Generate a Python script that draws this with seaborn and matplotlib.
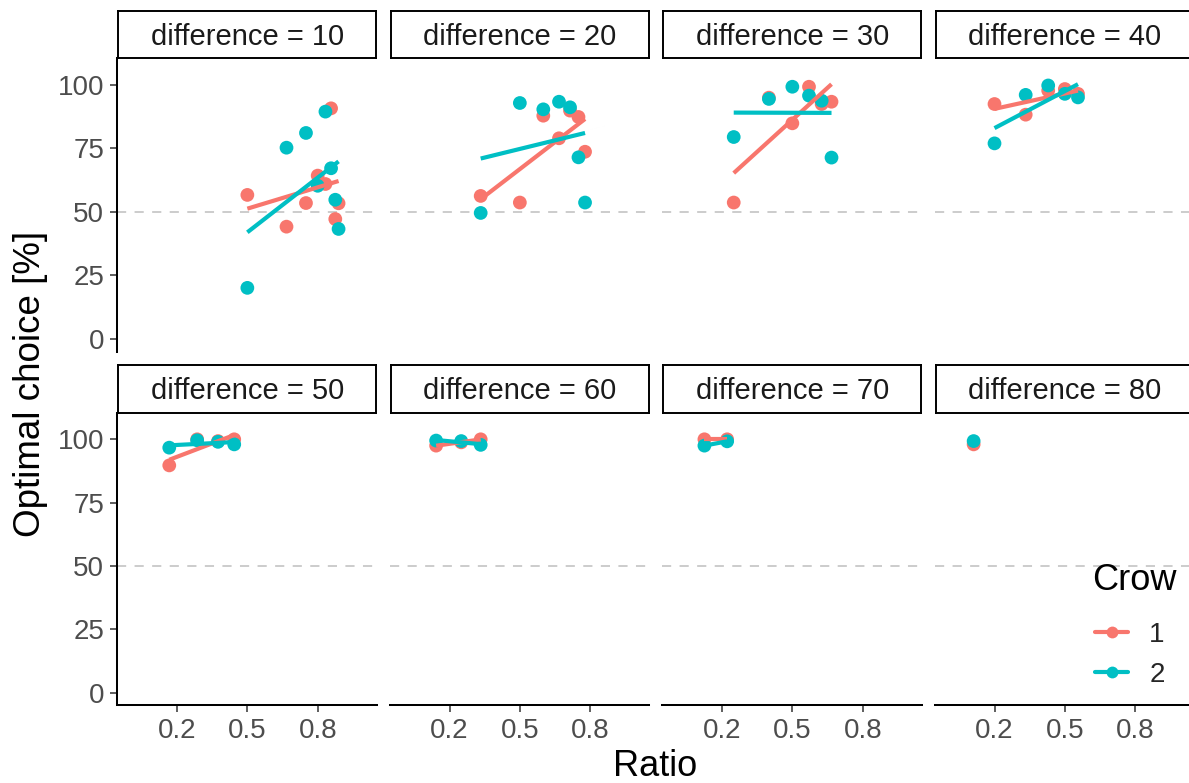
import numpy as np
import pandas as pd
import matplotlib
matplotlib.use("Agg")
import matplotlib.pyplot as plt
import seaborn as sns
from matplotlib.lines import Line2D

# ---------------- data ----------------
differences = [10, 20, 30, 40, 50, 60, 70, 80]

ratio_10 = [0.500, 0.667, 0.750, 0.800, 0.833, 0.857, 0.875, 0.889]
crow1_10 = [56.7, 44.2, 53.5, 64.3, 61.0, 90.8, 47.2, 53.4]
crow2_10 = [20.1, 75.3, 81.1, 60.3, 89.5, 67.2, 54.8, 43.3]

ratio_20 = [0.333, 0.500, 0.600, 0.667, 0.714, 0.750, 0.778]
crow1_20 = [56.3, 53.7, 87.9, 79.0, 89.9, 87.4, 73.7]
crow2_20 = [49.6, 92.9, 90.4, 93.4, 91.2, 71.5, 53.7]

ratio_30 = [0.250, 0.400, 0.500, 0.571, 0.625, 0.667]
crow1_30 = [53.7, 95.0, 84.9, 99.3, 92.5, 93.4]
crow2_30 = [79.5, 94.5, 99.3, 95.8, 93.8, 71.4]

ratio_40 = [0.200, 0.333, 0.429, 0.500, 0.556]
crow1_40 = [92.5, 88.3, 97.8, 98.4, 96.5]
crow2_40 = [77.0, 96.1, 99.8, 96.5, 95.1]

ratio_50 = [0.167, 0.286, 0.375, 0.444]
crow1_50 = [89.7, 100.0, 99.3, 100.0]
crow2_50 = [96.7, 99.6, 99.0, 98.0]

ratio_60 = [0.143, 0.250, 0.333]
crow1_60 = [97.5, 98.8, 100.0]
crow2_60 = [99.5, 99.3, 97.8]

ratio_70 = [0.125, 0.222]
crow1_70 = [100.0, 100.0]
crow2_70 = [97.5, 99.2]

ratio_80 = [0.111]
crow1_80 = [98.0]
crow2_80 = [99.3]

crows = ["1", "2"]
x_ticks = [0.2, 0.5, 0.8]
x_ticklabels = ["0.2", "0.5", "0.8"]
y_ticks = [0, 25, 50, 75, 100]
chance_level = 50

ratios = [ratio_10, ratio_20, ratio_30, ratio_40, ratio_50, ratio_60, ratio_70, ratio_80]
crow1 = [crow1_10, crow1_20, crow1_30, crow1_40, crow1_50, crow1_60, crow1_70, crow1_80]
crow2 = [crow2_10, crow2_20, crow2_30, crow2_40, crow2_50, crow2_60, crow2_70, crow2_80]

rows = []
for d, r, c1, c2 in zip(differences, ratios, crow1, crow2):
    for xv, yv in zip(r, c1):
        rows.append({"difference": d, "Ratio": xv, "Optimal": yv, "Crow": "1"})
    for xv, yv in zip(r, c2):
        rows.append({"difference": d, "Ratio": xv, "Optimal": yv, "Crow": "2"})
df = pd.DataFrame(rows)

# ---------------- style ----------------
sns.set_theme(style="white")
plt.rcParams["font.family"] = ["Liberation Sans", "DejaVu Sans"]

palette = {"1": "#F8766D", "2": "#00BFC4"}
W, H = 1189, 783
fig = plt.figure(figsize=(W / 100, H / 100), dpi=100)
fig.patch.set_facecolor("white")

col_x0 = 117.3
col_step = 272.5
col_w = 259.4
row_bounds = [(58.3, 351.6), (412.7, 705.3)]
strip_bounds = [(11.3, 58.3), (365.3, 412.7)]

XLIM = (-0.0546, 1.0516)
YLIM = (-5.0, 110.5)

for i, d in enumerate(differences):
    r, c = divmod(i, 4)
    x0 = col_x0 + col_step * c
    yt, yb = row_bounds[r]
    ax = fig.add_axes([x0 / W, 1 - yb / H, col_w / W, (yb - yt) / H])
    ax.set_facecolor("white")
    sub = df[df["difference"] == d]

    ax.axhline(chance_level, color="#BEBEBE", lw=1.1, dashes=(6, 5.5), zorder=1)
    sns.scatterplot(data=sub, x="Ratio", y="Optimal", hue="Crow", hue_order=crows,
                    palette=palette, s=98, linewidth=0, legend=False, ax=ax, zorder=3)
    for crow in crows:
        s = sub[sub["Crow"] == crow]
        if len(s) >= 2:
            sns.regplot(data=s, x="Ratio", y="Optimal", scatter=False, ci=None,
                        truncate=True, color=palette[crow],
                        line_kws=dict(lw=3.0, zorder=4, solid_capstyle="butt"), ax=ax)

    ax.set_xlim(*XLIM)
    ax.set_ylim(*YLIM)
    ax.set_xlabel("")
    ax.set_ylabel("")
    ax.grid(False)
    ax.set_xticks(x_ticks)
    ax.set_xticklabels(x_ticklabels)
    ax.set_yticks(y_ticks)
    for sp in ax.spines.values():
        sp.set_visible(False)
    ax.tick_params(axis="both", length=4.7, width=1.1, color="#333333",
                   labelsize=20, labelcolor="#4D4D4D", pad=4.8)
    if c == 0:
        ax.spines["left"].set_visible(True)
        ax.spines["left"].set_linewidth(1.45)
        ax.spines["left"].set_color("black")
        ax.tick_params(axis="y", left=True, labelleft=True)
    else:
        ax.tick_params(axis="y", left=False, labelleft=False)
    if r == 1:
        ax.spines["bottom"].set_visible(True)
        ax.spines["bottom"].set_linewidth(1.45)
        ax.spines["bottom"].set_color("black")
        ax.tick_params(axis="x", bottom=True, labelbottom=True)
    else:
        ax.tick_params(axis="x", bottom=False, labelbottom=False)

    # facet strip
    st, sb = strip_bounds[r]
    sax = fig.add_axes([(x0 + 1.0) / W, 1 - sb / H, (col_w - 1.5) / W, (sb - st) / H])
    sax.set_facecolor("white")
    sax.set_xticks([])
    sax.set_yticks([])
    for sp in sax.spines.values():
        sp.set_visible(True)
        sp.set_linewidth(1.4)
        sp.set_color("black")
    sax.text(0.5, 0.45, f"difference = {d}", ha="center", va="center",
             fontsize=21, color="#1A1A1A", transform=sax.transAxes)

# axis titles
fig.text(655 / W, 1 - 776 / H, "Ratio", ha="center", va="baseline", fontsize=26, color="black")
fig.text(31 / W, 1 - 384 / H, "Optimal choice [%]", rotation=90, ha="center",
         va="center", fontsize=26.5, color="black")

# legend
fig.text(1092 / W, 1 - 590 / H, "Crow", ha="left", va="baseline", fontsize=26, color="black")
handles = [Line2D([], [], color=palette[k], lw=3.0, marker="o", markersize=8.5,
                  markeredgewidth=0) for k in crows]
leg = fig.legend(handles, crows, loc="upper left",
                 bbox_to_anchor=(1095 / W, 1 - 622 / H), frameon=False,
                 fontsize=20, handlelength=1.2,
                 handletextpad=0.75, labelspacing=0.5, borderpad=0,
                 borderaxespad=0)

fig.savefig("out.png", dpi=100, facecolor="white")
